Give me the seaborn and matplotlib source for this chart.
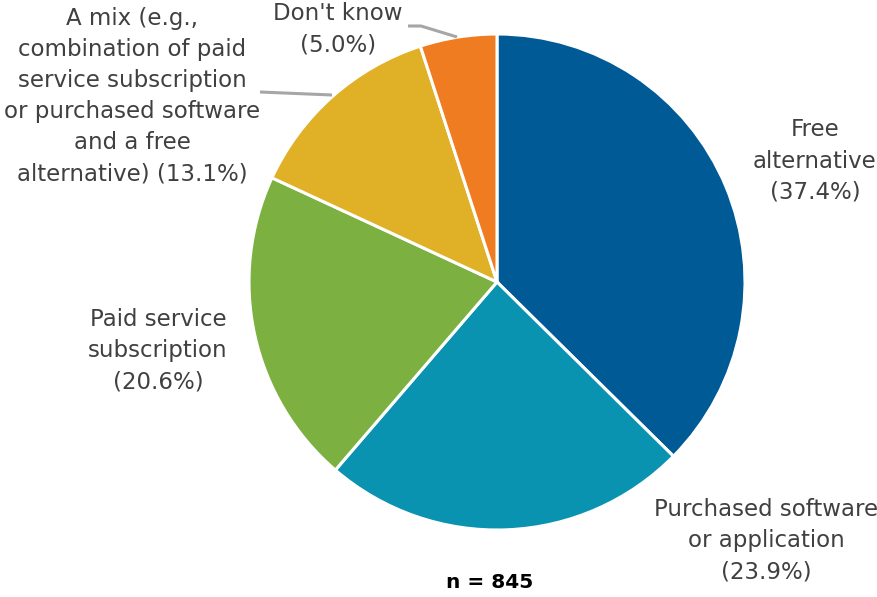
import matplotlib
matplotlib.use("Agg")
import matplotlib.pyplot as plt
import seaborn as sns

sns.set_theme(style="white")
plt.rcParams['font.family'] = ['DejaVu Sans']

categories = ["Free alternative", "Purchased software or application", "Paid service subscription",
              "A mix (e.g., combination of paid service subscription or purchased software and a free alternative)",
              "Don't know"]
values = [37.4, 23.9, 20.6, 13.1, 5.0]
label_texts = ["Free\nalternative\n(37.4%)",
               "Purchased software\nor application\n(23.9%)",
               "Paid service\nsubscription\n(20.6%)",
               "A mix (e.g.,\ncombination of paid\nservice subscription\nor purchased software\nand a free\nalternative) (13.1%)",
               "Don't know\n(5.0%)"]
colors = ["#005a96", "#0a93b0", "#7cb041", "#e0b026", "#f07c22"]
note = "n = 845"

W, H = 878, 597
fig = plt.figure(figsize=(W / 100, H / 100), dpi=100)
ax = fig.add_axes([0, 0, 1, 1])

cx, cy, r = 497, H - 282, 248
ax.pie(values, colors=colors, startangle=90, counterclock=False,
       center=(cx, cy), radius=r, frame=True,
       wedgeprops=dict(edgecolor="white", linewidth=2.2))
ax.set_xlim(0, W)
ax.set_ylim(0, H)
ax.set_aspect("equal")
ax.axis("off")

label_pos = [(815, 161), (766, 541), (158, 351), (132, 96), (338, 29)]
for txt, (x, y) in zip(label_texts, label_pos):
    ax.text(x, H - y, txt, ha="center", va="center", fontsize=16.5, color="#404040",
            linespacing=1.45, clip_on=False)

# leader lines
ax.plot([408, 421, 457], [H - 26, H - 26, H - 37], color="#a6a6a6", lw=2.2, solid_capstyle="butt")
ax.plot([260, 332], [H - 92, H - 95], color="#a6a6a6", lw=2.2, solid_capstyle="butt")

ax.text(490, H - 583, note, ha="center", va="center", fontsize=14.5, fontweight="bold", color="black")

fig.savefig("out.png", dpi=100)
